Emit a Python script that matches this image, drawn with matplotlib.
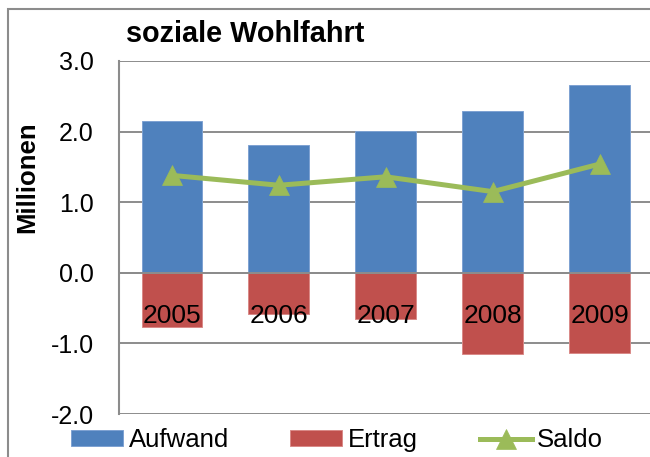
import numpy as np
import matplotlib
matplotlib.use("Agg")
from matplotlib import pyplot as plt
from matplotlib.patches import Rectangle

plt.rcParams['font.family'] = ['Liberation Sans', 'DejaVu Sans']

years = ["2005", "2006", "2007", "2008", "2009"]
aufwand = [2.145, 1.816, 2.014, 2.287, 2.665]
ertrag = [-0.77, -0.58, -0.66, -1.146, -1.13]
saldo = [1.38, 1.24, 1.36, 1.15, 1.54]
y_ticks = [-2.0, -1.0, 0.0, 1.0, 2.0, 3.0]

blue = "#4F81BD"
red = "#C0504D"
green = "#9BBB59"
gray = "#8C8C8C"

W, H = 650, 457
fig = plt.figure(figsize=(W / 100, H / 100), dpi=100)

# outer chart border (cut off at right and bottom like the screenshot)
fig.patches.append(Rectangle((8 / W, -0.1), 1.2, 1 - 9 / H + 0.1, transform=fig.transFigure,
                             fill=False, edgecolor=gray, linewidth=1.5))

cat_w = 106.9
left = 118.5
ax = fig.add_axes([left / W, 1 - 414 / H, 5 * cat_w / W, (414 - 61) / H])
x = np.arange(len(years))

ax.bar(x, aufwand, width=0.569, color=blue, edgecolor="#7EA2D2", linewidth=0.7,
       label="Aufwand", zorder=2)
ax.bar(x, ertrag, width=0.569, color=red, edgecolor="#D98A88", linewidth=0.7,
       label="Ertrag", zorder=2)
ax.axhline(0, color=gray, linewidth=1.4, zorder=2.5)
ax.plot(x, saldo, color=green, linewidth=3.6, marker="^", markersize=14,
        markeredgewidth=0.5, label="Saldo", zorder=3)

for i, yr in enumerate(years):
    ax.annotate(yr, (i, 0), xytext=(0, -36.3), textcoords="offset points",
                ha="center", va="baseline", fontsize=19, zorder=4)

ax.set_xlim(-0.5, 4.5)
ax.set_ylim(-2.0, 3.0)
ax.set_yticks(y_ticks)
ax.set_yticklabels([f"{v:.1f}" for v in y_ticks], fontsize=18)
ax.set_xticks([])
ax.tick_params(axis="y", length=0, pad=18)
ax.set_axisbelow(True)
ax.grid(axis="y", color=gray, linewidth=1.4)
for s in ["top", "right", "bottom"]:
    ax.spines[s].set_visible(False)
ax.spines["left"].set_color(gray)
ax.spines["left"].set_linewidth(1.5)

fig.text(126 / W, 1 - 41.7 / H, "soziale Wohlfahrt", fontsize=20.8, fontweight="bold",
         ha="left", va="baseline")
fig.text(27 / W, 1 - 177 / H, "Millionen", fontsize=18.5, fontweight="bold",
         rotation=90, ha="center", va="center")

handles, labels = ax.get_legend_handles_labels()
order = [labels.index(n) for n in ["Aufwand", "Ertrag", "Saldo"]]
fig.legend([handles[i] for i in order], [labels[i] for i in order],
           loc="center left", bbox_to_anchor=(71 / W, 1 - 440 / H),
           ncol=3, frameon=False, fontsize=18.5, borderpad=0, borderaxespad=0,
           handlelength=2.02, handleheight=0.55, handletextpad=0.22, columnspacing=2.4)

fig.savefig("out.png", dpi=100)
